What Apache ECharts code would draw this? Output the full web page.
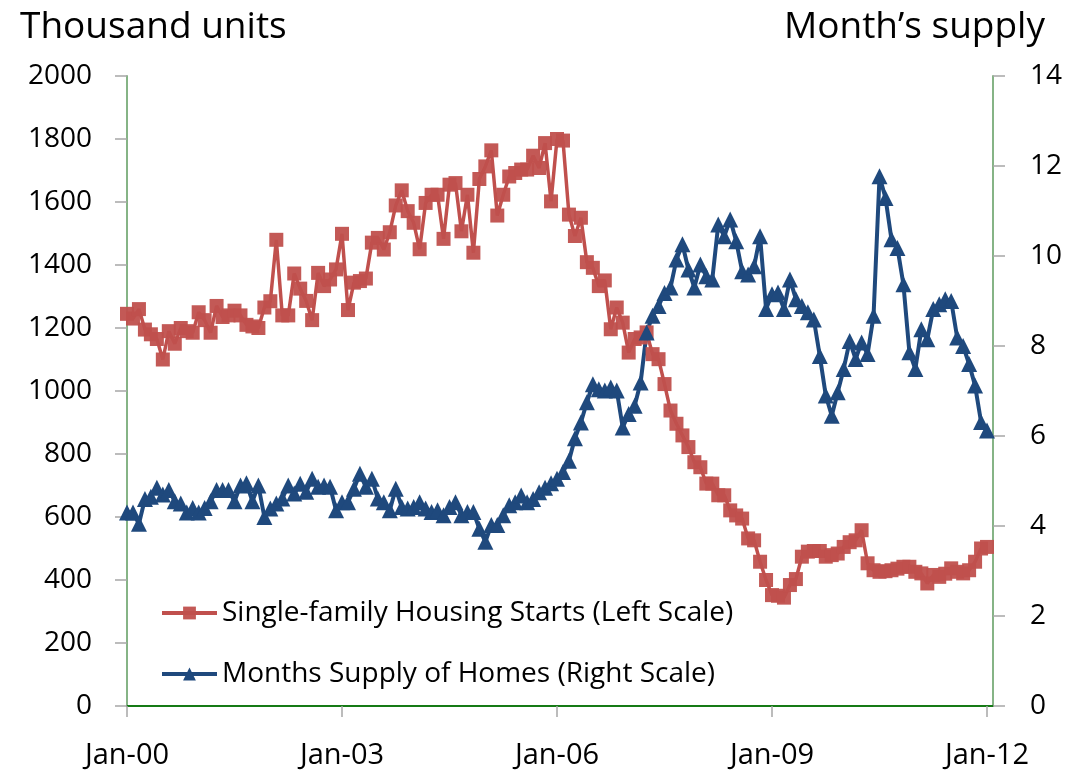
<!DOCTYPE html>
<html>
<head>
<meta charset="utf-8">
<script src="https://cdn.jsdelivr.net/npm/echarts@6/dist/echarts.min.js"></script>
<style>
  html, body { margin: 0; padding: 0; background: #fff; }
  #main { width: 1073px; height: 773px; }
</style>
</head>
<body>
<div id="main"></div>
<script>
// monthly, Jan-00 .. Jan-12 (the axis runs one month further)
var monthNames = ['Jan', 'Feb', 'Mar', 'Apr', 'May', 'Jun', 'Jul', 'Aug', 'Sep', 'Oct', 'Nov', 'Dec']
var years = ['00', '01', '02', '03', '04', '05', '06', '07', '08', '09', '10', '11', '12']

// Single-family housing starts, thousand units (left scale)
var starts = [
  1245, 1230, 1260, 1195, 1180, 1165, 1100, 1190, 1150, 1200, 1190, 1185,
  1250, 1225, 1185, 1270, 1235, 1240, 1255, 1240, 1210, 1205, 1200, 1265,
  1285, 1480, 1240, 1240, 1373, 1325, 1286, 1225, 1375, 1333, 1354, 1386,
  1499, 1257, 1344, 1349, 1357, 1471, 1486, 1449, 1504, 1589, 1637, 1571,
  1534, 1450, 1597, 1623, 1623, 1483, 1655, 1660, 1507, 1623, 1439, 1673,
  1713, 1764, 1557, 1623, 1681, 1692, 1703, 1703, 1747, 1708, 1787, 1602,
  1800, 1795, 1560, 1492, 1550, 1409, 1391, 1333, 1351, 1196, 1265, 1217,
  1122, 1165, 1170, 1186, 1117, 1101, 1022, 938, 896, 859, 822, 774,
  758, 706, 706, 669, 669, 621, 605, 595, 532, 526, 458, 400,
  352, 350, 344, 384, 403, 474, 490, 492, 492, 474, 479, 484,
  505, 520, 526, 558, 453, 431, 426, 428, 431, 436, 442, 442,
  426, 421, 389, 416, 410, 420, 437, 426, 421, 431, 458, 500,
  505
]

// Months supply of homes (right scale)
var supply = [
  4.3, 4.3, 4.05, 4.6, 4.65, 4.85, 4.7, 4.8, 4.55, 4.5, 4.3, 4.4,
  4.3, 4.4, 4.55, 4.8, 4.8, 4.8, 4.55, 4.9, 4.95, 4.55, 4.9, 4.2,
  4.39, 4.5, 4.61, 4.9, 4.72, 4.94, 4.76, 5.05, 4.87, 4.9, 4.87, 4.35,
  4.53, 4.53, 4.83, 5.16, 4.87, 5.05, 4.61, 4.53, 4.35, 4.83, 4.42, 4.39,
  4.42, 4.53, 4.39, 4.31, 4.35, 4.24, 4.42, 4.53, 4.24, 4.31, 4.31, 3.94,
  3.65, 4.02, 4.02, 4.24, 4.46, 4.53, 4.68, 4.53, 4.6, 4.75, 4.85, 4.95,
  5.05, 5.2, 5.45, 5.95, 6.3, 6.75, 7.15, 7.04, 7.01, 7.08, 7.01, 6.19,
  6.49, 6.67, 7.19, 8.3, 8.67, 8.89, 9.18, 9.3, 9.92, 10.26, 9.7, 9.3,
  9.81, 9.55, 9.48, 10.7, 10.44, 10.81, 10.33, 9.66, 9.59, 9.77, 10.44, 8.82,
  9.15, 9.19, 8.82, 9.48, 9.04, 8.89, 8.75, 8.59, 7.78, 6.9, 6.45, 6.97,
  7.49, 8.11, 7.71, 8.08, 7.82, 8.67, 11.77, 11.29, 10.37, 10.18, 9.37, 7.86,
  7.49, 8.37, 8.15, 8.82, 8.93, 9.04, 9.0, 8.19, 8.0, 7.6, 7.12, 6.31,
  6.12
]

var leftTitle = 'Thousand units'
var rightTitle = 'Month\u2019s supply'
var startsName = 'Single-family Housing Starts (Left Scale)'
var supplyName = 'Months Supply of Homes (Right Scale)'

var months = []
for (var y of years) {
  for (var m of monthNames) {
    months.push(m + '-' + y)
    if (y == '12' && m == 'Feb') break
  }
}

var font = 'Open Sans'
var frameGreen = '#86b486'
var tickGray = '#a6a6a6'

// a label / tick every three years (Jan-00, Jan-03, ...)
function everyThreeYears(i) {
  return i % 36 === 0
}

var chart = echarts.init(document.getElementById('main'), null, { renderer: 'canvas' })
chart.setOption(getOption())

function getOption() {
  return {
    animation: false,
    backgroundColor: '#ffffff',
    textStyle: { fontFamily: font },
    title: [
      { text: leftTitle, left: 15, top: 4, textStyle: { fontFamily: font, fontSize: 37, fontWeight: 'normal', color: '#000' } },
      { text: rightTitle, right: 23, top: 4, textStyle: { fontFamily: font, fontSize: 37, fontWeight: 'normal', color: '#000' } }
    ],
    legend: {
      orient: 'vertical',
      left: 160,
      top: 599,
      padding: 0,
      itemWidth: 55,
      itemHeight: 16,
      itemGap: 33,
      lineStyle: { width: 4 },
      textStyle: { fontFamily: font, fontSize: 28, color: '#000' },
      data: [startsName, supplyName]
    },
    grid: { left: 127, right: 80, top: 76, bottom: 67, containLabel: false },
    xAxis: [{
      type: 'category',
      data: months,
      boundaryGap: false,
      axisLine: { lineStyle: { color: frameGreen, width: 2 } },
      axisTick: { interval: everyThreeYears, length: 11, lineStyle: { color: tickGray, width: 1.5 } },
      axisLabel: { interval: everyThreeYears, margin: 35, fontSize: 29, color: '#000', fontFamily: font },
      splitLine: { show: false }
    }, {
      // top border of the plot
      type: 'category',
      data: months,
      boundaryGap: false,
      position: 'top',
      axisLine: { lineStyle: { color: '#157a15', width: 2 } },
      axisTick: { show: false },
      axisLabel: { show: false },
      splitLine: { show: false }
    }],
    yAxis: [{
      type: 'value',
      min: 0,
      max: 2000,
      interval: 200,
      axisLine: { show: true, lineStyle: { color: frameGreen, width: 2 } },
      axisTick: { show: true, length: 12, lineStyle: { color: tickGray, width: 1.5 } },
      axisLabel: { margin: 35, fontSize: 28, color: '#000', fontFamily: font, formatter: function (v) { return String(v) } },
      splitLine: { show: false }
    }, {
      type: 'value',
      min: 0,
      max: 14,
      interval: 2,
      position: 'right',
      axisLine: { show: true, lineStyle: { color: frameGreen, width: 2 } },
      axisTick: { show: true, length: 12, lineStyle: { color: tickGray, width: 1.5 } },
      axisLabel: { margin: 37, fontSize: 28, color: '#000', fontFamily: font },
      splitLine: { show: false }
    }],
    series: [{
      name: startsName,
      type: 'line',
      yAxisIndex: 0,
      data: starts,
      symbol: 'rect',
      symbolSize: 14,
      showAllSymbol: true,
      lineStyle: { color: '#c0504d', width: 3.5 },
      itemStyle: { color: '#c0504d', opacity: 0.95 }
    }, {
      name: supplyName,
      type: 'line',
      yAxisIndex: 1,
      data: supply,
      symbol: 'triangle',
      symbolSize: 16,
      showAllSymbol: true,
      lineStyle: { color: '#1f497d', width: 4 },
      itemStyle: { color: '#1f497d' }
    }]
  }
}
</script>
</body>
</html>
